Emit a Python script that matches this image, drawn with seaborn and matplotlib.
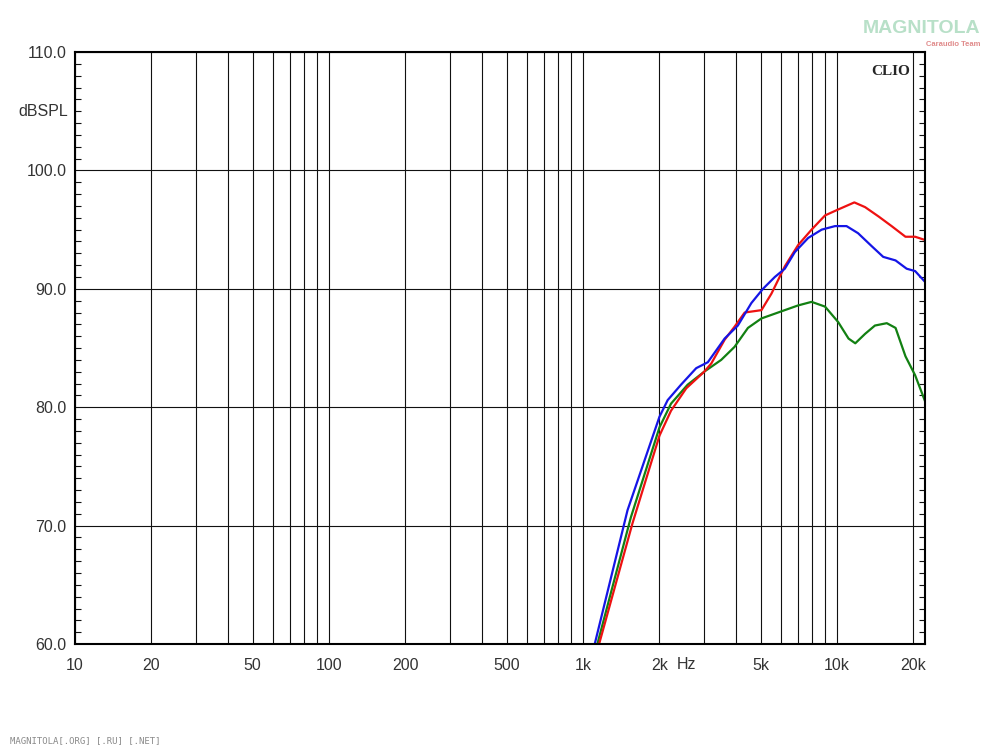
import numpy as np
import pandas as pd
import matplotlib
matplotlib.use("Agg")
import matplotlib.pyplot as plt
import seaborn as sns
from matplotlib.ticker import FixedLocator, MultipleLocator, NullFormatter

# ====================
# DONNEES
# ====================

freq_rouge = [1157, 1566, 2000, 2220, 2550, 3000, 3200, 3610, 3950, 4330, 5040, 5520,
              6230, 7030, 7940, 8970, 10100, 11700, 12900, 14600, 16400, 18600, 20300, 22400]
db_rouge = [60.0, 70.2, 77.6, 79.7, 81.6, 83.0, 83.7, 85.7, 86.8, 88.0, 88.2, 89.6,
            91.9, 93.7, 95.0, 96.2, 96.7, 97.3, 96.9, 96.1, 95.3, 94.4, 94.4, 94.1]

freq_bleu = [1112, 1497, 2000, 2154, 2430, 2790, 3100, 3610, 4070, 4600, 5110, 5690,
             6230, 6820, 7700, 8700, 9820, 10900, 12100, 13700, 15200, 17000, 18800, 20300, 22400]
db_bleu = [60.0, 71.3, 79.2, 80.6, 81.9, 83.3, 83.8, 85.8, 86.9, 88.8, 90.0, 91.0,
           91.7, 93.1, 94.3, 95.0, 95.3, 95.3, 94.7, 93.6, 92.7, 92.4, 91.7, 91.5, 90.5]

freq_vert = [1139, 1543, 2000, 2220, 2580, 3000, 3500, 3950, 4460, 5040, 6040, 7030,
             7940, 8970, 10100, 11100, 11800, 12900, 14100, 15700, 17000, 18600, 20300, 22400]
db_vert = [60.0, 70.7, 78.3, 80.3, 81.9, 83.0, 84.0, 85.1, 86.7, 87.5, 88.1, 88.6,
           88.9, 88.5, 87.2, 85.8, 85.4, 86.2, 86.9, 87.1, 86.7, 84.3, 82.7, 80.3]

x_ticks = [10, 20, 50, 100, 200, 500, 1000, 2000, 5000, 10000, 20000]
x_labels = ["10", "20", "50", "100", "200", "500", "1k", "2k", "5k", "10k", "20k"]
y_ticks = [60, 70, 80, 90, 100, 110]
y_labels = ["60.0", "70.0", "80.0", "90.0", "100.0", "110.0"]

couleurs = {"rouge": "#ee1111", "bleu": "#1515e6", "vert": "#128012"}

# ====================
# MISE EN FORME
# ====================

df = pd.concat([
    pd.DataFrame({"Hz": freq_rouge, "dB": db_rouge, "courbe": "rouge"}),
    pd.DataFrame({"Hz": freq_bleu, "dB": db_bleu, "courbe": "bleu"}),
    pd.DataFrame({"Hz": freq_vert, "dB": db_vert, "courbe": "vert"}),
], ignore_index=True)

sns.set_theme(style="white")
plt.rcParams["font.family"] = ["Liberation Sans", "DejaVu Sans"]

fig = plt.figure(figsize=(10, 7.5), dpi=100)
ax = fig.add_axes([0.075, 0.1413, 0.85, 0.7893])
ax.set_xscale("log")

sns.lineplot(data=df, x="Hz", y="dB", hue="courbe", palette=couleurs,
             hue_order=["vert", "rouge", "bleu"], linewidth=1.6,
             legend=False, sort=True, estimator=None, ax=ax)

ax.set_xlim(10, 22200)
ax.set_ylim(60, 110)

# grille verticale : toutes les positions log
minor_x = [m * 10 ** e for e in range(1, 5) for m in range(2, 10)]
minor_x = [v for v in minor_x if v not in x_ticks and v < 22200]
ax.xaxis.set_major_locator(FixedLocator(x_ticks))
ax.xaxis.set_minor_locator(FixedLocator(minor_x))
ax.xaxis.set_minor_formatter(NullFormatter())
ax.set_xticklabels(x_labels)
ax.set_yticks(y_ticks)
ax.set_yticklabels(y_labels)
ax.yaxis.set_minor_locator(MultipleLocator(1))

ax.grid(which="both", axis="x", color="#111111", linewidth=0.8)
ax.grid(which="major", axis="y", color="#111111", linewidth=0.8)

ax.tick_params(axis="x", which="both", length=0, pad=10, labelsize=11.5, labelcolor="#333333")
ax.tick_params(axis="y", which="major", length=0, pad=6, labelsize=11.5, labelcolor="#333333")
ax.tick_params(axis="y", which="minor", direction="in", length=4, width=0.8,
               left=True, right=True, color="#111111")

for s in ax.spines.values():
    s.set_color("black")
    s.set_linewidth(1.5)

ax.set_xlabel("")
ax.set_ylabel("")

# textes
fig.text(0.068, 0.851, "dBSPL", ha="right", va="center", fontsize=11.5, color="#333333")
fig.text(0.686, 0.1138, "Hz", ha="center", va="center", fontsize=11.5, color="#333333")
ax.text(0.982, 0.978, "CLIO", transform=ax.transAxes, ha="right", va="top",
        fontsize=11, fontweight="bold", family=["Liberation Serif", "DejaVu Serif"])
fig.text(0.98, 0.962, "MAGNITOLA", ha="right", va="center", fontsize=14,
         color="#b8e0c8", fontweight="bold")
fig.text(0.98, 0.941, "Caraudio Team", ha="right", va="center", fontsize=5.5,
         color="#e08a8a", fontweight="bold")
fig.text(0.01, 0.013, "MAGNITOLA[.ORG] [.RU] [.NET]", ha="left", va="center",
         fontsize=6.5, color="#8a8a8a", family=["DejaVu Sans Mono"])

fig.savefig("out.png", dpi=100)
